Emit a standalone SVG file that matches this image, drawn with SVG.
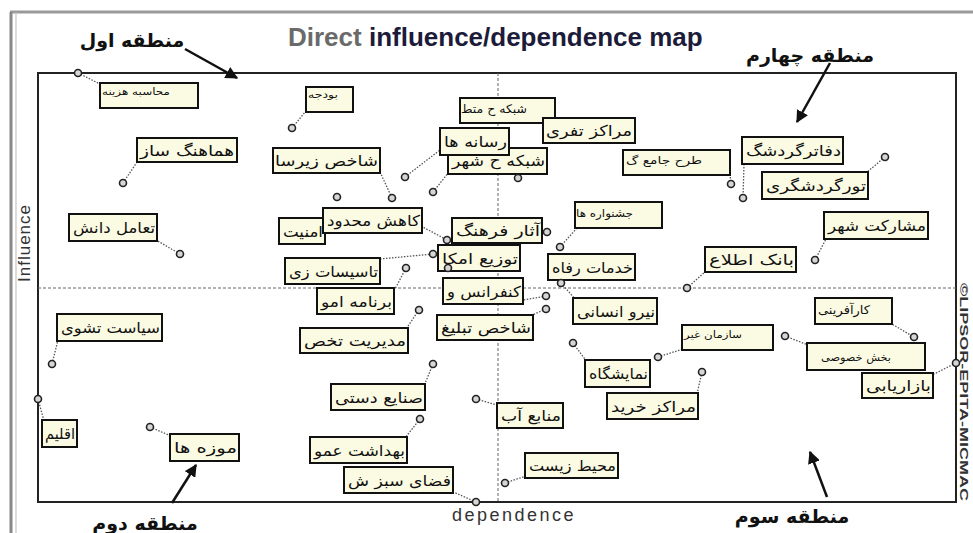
<svg xmlns="http://www.w3.org/2000/svg" width="973" height="533" viewBox="0 0 973 533">
<defs>
<style>
.box{fill:#fbfbe3;stroke:#111;stroke-width:2}
.lbl{font-family:"DejaVu Sans",sans-serif;font-size:15px;fill:#111;text-anchor:end}
.sm{font-size:10px}
.lead{stroke:#555;stroke-width:1.3;stroke-dasharray:1.5 1.5;fill:none}
.pt{fill:#d6d6d6;stroke:#222;stroke-width:1.6}
.zone{font-family:"DejaVu Sans",sans-serif;font-size:19px;font-weight:bold;fill:#111;text-anchor:middle}
.arr{stroke:#111;stroke-width:2.5;fill:none;marker-end:url(#ah)}
.mid{stroke:#666;stroke-width:1;stroke-dasharray:3 2;fill:none}
</style>
<marker id="ah" viewBox="0 0 10 10" refX="9" refY="5" markerWidth="5" markerHeight="5" orient="auto"><path d="M0,0 L10,5 L0,10 z" fill="#111"/></marker>
</defs>
<rect x="0" y="0" width="973" height="533" fill="#ffffff"/>
<line x1="10" y1="12" x2="973" y2="12" stroke="#9a9a9a" stroke-width="3"/>
<line x1="11" y1="12" x2="11" y2="533" stroke="#888" stroke-width="3"/>
<line x1="16" y1="12" x2="16" y2="533" stroke="#bbb" stroke-width="1"/>
<text x="288" y="46" font-family="Liberation Sans, Arial, sans-serif" font-size="26" font-weight="bold" fill="#1c1c3a"><tspan fill="#6a6a6a">Direct</tspan> influence/dependence map</text>
<rect x="38" y="73" width="918" height="429" fill="none" stroke="#222" stroke-width="2"/>
<line class="mid" x1="498" y1="73" x2="498" y2="502"/>
<line class="mid" x1="38" y1="288" x2="956" y2="288"/>
<text transform="translate(30,243) rotate(-90)" font-family="Liberation Sans, Arial, sans-serif" font-size="17" letter-spacing="1" fill="#333" text-anchor="middle">Influence</text>
<text x="514" y="521" font-family="Liberation Sans, Arial, sans-serif" font-size="18" letter-spacing="2.5" fill="#333" text-anchor="middle">dependence</text>
<text transform="translate(960,283) rotate(90)" font-family="Liberation Sans, Arial, sans-serif" font-size="11" font-weight="bold" fill="#333" textLength="218" lengthAdjust="spacingAndGlyphs">©LIPSOR-EPITA-MICMAC</text>
<g id="zones">
<text class="zone" x="132" y="47">منطقه اول</text>
<text class="zone" x="810" y="62">منطقه چهارم</text>
<text class="zone" x="145" y="530">منطقه دوم</text>
<text class="zone" x="792" y="523">منطقه سوم</text>
<line class="arr" x1="185" y1="49" x2="237" y2="78"/>
<line class="arr" x1="830" y1="63" x2="797" y2="122"/>
<line class="arr" x1="172" y1="503" x2="196" y2="465"/>
<line class="arr" x1="827" y1="497" x2="810" y2="452"/>
</g>
<g id="connectors">
<line class="lead" x1="78" y1="73" x2="100" y2="84"/>
<line class="lead" x1="292" y1="128" x2="306" y2="111"/>
<line class="lead" x1="123" y1="183" x2="137" y2="162"/>
<line class="lead" x1="380" y1="172" x2="392" y2="198"/>
<line class="lead" x1="405" y1="177" x2="440" y2="150"/>
<line class="lead" x1="433" y1="192" x2="449" y2="172"/>
<line class="lead" x1="730" y1="174" x2="731" y2="184"/>
<line class="lead" x1="744" y1="164" x2="743" y2="198"/>
<line class="lead" x1="885" y1="157" x2="866" y2="173"/>
<line class="lead" x1="815" y1="260" x2="826" y2="239"/>
<line class="lead" x1="687" y1="288" x2="706" y2="271"/>
<line class="lead" x1="560" y1="247" x2="577" y2="228"/>
<line class="lead" x1="561" y1="283" x2="575" y2="299"/>
<line class="lead" x1="421" y1="226" x2="447" y2="240"/>
<line class="lead" x1="380" y1="259" x2="433" y2="254"/>
<line class="lead" x1="406" y1="268" x2="395" y2="289"/>
<line class="lead" x1="419" y1="310" x2="406" y2="329"/>
<line class="lead" x1="546" y1="296" x2="523" y2="300"/>
<line class="lead" x1="546" y1="309" x2="530" y2="316"/>
<line class="lead" x1="658" y1="357" x2="683" y2="349"/>
<line class="lead" x1="890" y1="323" x2="914" y2="337"/>
<line class="lead" x1="785" y1="336" x2="808" y2="345"/>
<line class="lead" x1="956" y1="363" x2="932" y2="375"/>
<line class="lead" x1="573" y1="343" x2="587" y2="362"/>
<line class="lead" x1="702" y1="372" x2="697" y2="394"/>
<line class="lead" x1="476" y1="399" x2="497" y2="405"/>
<line class="lead" x1="505" y1="483" x2="526" y2="476"/>
<line class="lead" x1="433" y1="364" x2="424" y2="386"/>
<line class="lead" x1="420" y1="419" x2="405" y2="438"/>
<line class="lead" x1="476" y1="502" x2="451" y2="491"/>
<line class="lead" x1="150" y1="427" x2="171" y2="436"/>
<line class="lead" x1="38" y1="399" x2="44" y2="421"/>
<line class="lead" x1="52" y1="364" x2="58" y2="340"/>
<line class="lead" x1="180" y1="254" x2="156" y2="240"/>
</g>
<g id="n-mohasebe"><rect class="box" x="100" y="83" width="98" height="25"/><text class="lbl sm" x="170" y="95" textLength="68" lengthAdjust="spacingAndGlyphs">محاسبه هزینه</text></g>
<g id="n-budget"><rect class="box" x="306" y="87" width="47" height="25"/><text class="lbl sm" x="338" y="98" textLength="30" lengthAdjust="spacingAndGlyphs">بودجه</text></g>
<g id="n-hamahang"><rect class="box" x="137" y="138" width="100" height="24"/><text class="lbl" x="234" y="156" textLength="94" lengthAdjust="spacingAndGlyphs">هماهنگ ساز</text></g>
<g id="n-zirsakht"><rect class="box" x="273" y="148" width="107" height="25"/><text class="lbl" x="378" y="166" textLength="103" lengthAdjust="spacingAndGlyphs">شاخص زیرسا</text></g>
<g id="n-shabake-mantaghe"><rect class="box" x="460" y="98" width="95" height="25"/><text class="lbl" x="527" y="113" style="font-size:12px" textLength="66" lengthAdjust="spacingAndGlyphs">شبکه ح متط</text></g>
<g id="n-tafrihi"><rect class="box" x="543" y="118" width="92" height="25"/><text class="lbl" x="632" y="136" textLength="86" lengthAdjust="spacingAndGlyphs">مراکز تفری</text></g>
<g id="n-shabake-shahr"><rect class="box" x="448" y="148" width="99" height="26"/><text class="lbl" x="545" y="166" textLength="93" lengthAdjust="spacingAndGlyphs">شبکه ح شهر</text></g>
<g id="n-resaneh"><rect class="box" x="440" y="128" width="69" height="27"/><text class="lbl" x="507" y="147" textLength="63" lengthAdjust="spacingAndGlyphs">رسانه ها</text></g>
<g id="n-tarh"><rect class="box" x="623" y="150" width="107" height="25"/><text class="lbl" x="702" y="164" style="font-size:11px" textLength="76" lengthAdjust="spacingAndGlyphs">طرح جامع گ</text></g>
<g id="n-dafater"><rect class="box" x="742" y="137" width="101" height="27"/><text class="lbl" x="841" y="156" textLength="95" lengthAdjust="spacingAndGlyphs">دفاترگردشگ</text></g>
<g id="n-tour"><rect class="box" x="762" y="172" width="106" height="27"/><text class="lbl" x="866" y="191" textLength="100" lengthAdjust="spacingAndGlyphs">تورگردشگری</text></g>
<g id="n-mosharekat"><rect class="box" x="824" y="212" width="104" height="27"/><text class="lbl" x="926" y="231" textLength="98" lengthAdjust="spacingAndGlyphs">مشارکت شهر</text></g>
<g id="n-bank"><rect class="box" x="705" y="247" width="91" height="25"/><text class="lbl" x="794" y="265" textLength="85" lengthAdjust="spacingAndGlyphs">بانک اطلاع</text></g>
<g id="n-jashnvare"><rect class="box" x="575" y="202" width="87" height="26"/><text class="lbl" x="633" y="217" style="font-size:11px" textLength="57" lengthAdjust="spacingAndGlyphs">جشنواره ها</text></g>
<g id="n-khadamat"><rect class="box" x="548" y="254" width="87" height="26"/><text class="lbl" x="633" y="273" textLength="81" lengthAdjust="spacingAndGlyphs">خدمات رفاه</text></g>
<g id="n-niru"><rect class="box" x="573" y="298" width="84" height="26"/><text class="lbl" x="655" y="317" textLength="78" lengthAdjust="spacingAndGlyphs">نیرو انسانی</text></g>
<g id="n-amniat"><rect class="box" x="279" y="218" width="46" height="26"/><text class="lbl" x="323" y="237" textLength="40" lengthAdjust="spacingAndGlyphs">امنیت</text></g>
<g id="n-kahesh"><rect class="box" x="323" y="208" width="99" height="25"/><text class="lbl" x="420" y="226" textLength="93" lengthAdjust="spacingAndGlyphs">کاهش محدود</text></g>
<g id="n-tozi"><rect class="box" x="438" y="245" width="82" height="26"/><text class="lbl" x="518" y="264" textLength="76" lengthAdjust="spacingAndGlyphs">توزیع امکا</text></g>
<g id="n-asar"><rect class="box" x="452" y="218" width="90" height="25"/><text class="lbl" x="540" y="236" textLength="84" lengthAdjust="spacingAndGlyphs">آثار فرهنگ</text></g>
<g id="n-tasisat"><rect class="box" x="285" y="258" width="95" height="26"/><text class="lbl" x="378" y="277" textLength="89" lengthAdjust="spacingAndGlyphs">تاسیسات زی</text></g>
<g id="n-barname"><rect class="box" x="317" y="288" width="77" height="26"/><text class="lbl" x="392" y="307" textLength="71" lengthAdjust="spacingAndGlyphs">برنامه امو</text></g>
<g id="n-konferans"><rect class="box" x="443" y="278" width="80" height="26"/><text class="lbl" x="521" y="297" textLength="74" lengthAdjust="spacingAndGlyphs">کنفرانس و</text></g>
<g id="n-tabligh"><rect class="box" x="437" y="315" width="96" height="25"/><text class="lbl" x="531" y="333" textLength="90" lengthAdjust="spacingAndGlyphs">شاخص تبلیغ</text></g>
<g id="n-modiriat"><rect class="box" x="300" y="328" width="108" height="25"/><text class="lbl" x="406" y="346" textLength="102" lengthAdjust="spacingAndGlyphs">مدیریت تخص</text></g>
<g id="n-sazman"><rect class="box" x="682" y="325" width="91" height="25"/><text class="lbl" x="742" y="338" style="font-size:10px" textLength="58" lengthAdjust="spacingAndGlyphs">سازمان غیر</text></g>
<g id="n-karafarini"><rect class="box" x="815" y="298" width="77" height="26"/><text class="lbl" x="870" y="314" style="font-size:12px" textLength="52" lengthAdjust="spacingAndGlyphs">کارآفرینی</text></g>
<g id="n-bakhsh"><rect class="box" x="807" y="343" width="118" height="27"/><text class="lbl" x="891" y="361" style="font-size:11px" textLength="70" lengthAdjust="spacingAndGlyphs">بخش خصوصی</text></g>
<g id="n-bazaryabi"><rect class="box" x="862" y="373" width="71" height="25"/><text class="lbl" x="931" y="391" textLength="65" lengthAdjust="spacingAndGlyphs">بازاریابی</text></g>
<g id="n-namayeshgah"><rect class="box" x="585" y="360" width="65" height="27"/><text class="lbl" x="648" y="379" textLength="59" lengthAdjust="spacingAndGlyphs">نمایشگاه</text></g>
<g id="n-kharid"><rect class="box" x="607" y="393" width="91" height="26"/><text class="lbl" x="696" y="412" textLength="85" lengthAdjust="spacingAndGlyphs">مراکز خرید</text></g>
<g id="n-ab"><rect class="box" x="497" y="403" width="66" height="25"/><text class="lbl" x="561" y="421" textLength="60" lengthAdjust="spacingAndGlyphs">منابع آب</text></g>
<g id="n-mohit"><rect class="box" x="525" y="453" width="93" height="25"/><text class="lbl" x="616" y="471" textLength="87" lengthAdjust="spacingAndGlyphs">محیط زیست</text></g>
<g id="n-sanaye"><rect class="box" x="331" y="384" width="94" height="26"/><text class="lbl" x="423" y="403" textLength="88" lengthAdjust="spacingAndGlyphs">صنایع دستی</text></g>
<g id="n-behdasht"><rect class="box" x="310" y="437" width="97" height="26"/><text class="lbl" x="405" y="456" textLength="91" lengthAdjust="spacingAndGlyphs">بهداشت عمو</text></g>
<g id="n-fazaye"><rect class="box" x="344" y="467" width="109" height="26"/><text class="lbl" x="451" y="486" textLength="103" lengthAdjust="spacingAndGlyphs">فضای سبز ش</text></g>
<g id="n-muze"><rect class="box" x="170" y="434" width="69" height="27"/><text class="lbl" x="237" y="453" textLength="63" lengthAdjust="spacingAndGlyphs">موزه ها</text></g>
<g id="n-eghlim"><rect class="box" x="42" y="420" width="35" height="27"/><text class="lbl" x="75" y="439" textLength="30" lengthAdjust="spacingAndGlyphs">اقلیم</text></g>
<g id="n-siasat"><rect class="box" x="57" y="314" width="105" height="27"/><text class="lbl" x="160" y="333" textLength="99" lengthAdjust="spacingAndGlyphs">سیاست تشوی</text></g>
<g id="n-taamol"><rect class="box" x="69" y="214" width="88" height="27"/><text class="lbl" x="155" y="233" textLength="82" lengthAdjust="spacingAndGlyphs">تعامل دانش</text></g>
<g id="points">
<circle class="pt" cx="78" cy="73" r="3.5"/>
<circle class="pt" cx="292" cy="128" r="3.5"/>
<circle class="pt" cx="123" cy="183" r="3.5"/>
<circle class="pt" cx="392" cy="198" r="3.5"/>
<circle class="pt" cx="337" cy="197" r="3.5"/>
<circle class="pt" cx="405" cy="177" r="3.5"/>
<circle class="pt" cx="433" cy="192" r="3.5"/>
<circle class="pt" cx="518" cy="178" r="3.5"/>
<circle class="pt" cx="731" cy="184" r="3.5"/>
<circle class="pt" cx="743" cy="198" r="3.5"/>
<circle class="pt" cx="885" cy="157" r="3.5"/>
<circle class="pt" cx="815" cy="260" r="3.5"/>
<circle class="pt" cx="687" cy="288" r="3.5"/>
<circle class="pt" cx="560" cy="247" r="3.5"/>
<circle class="pt" cx="561" cy="283" r="3.5"/>
<circle class="pt" cx="547" cy="232" r="3.5"/>
<circle class="pt" cx="447" cy="240" r="3.5"/>
<circle class="pt" cx="433" cy="254" r="3.5"/>
<circle class="pt" cx="448" cy="268" r="3.5"/>
<circle class="pt" cx="406" cy="268" r="3.5"/>
<circle class="pt" cx="419" cy="310" r="3.5"/>
<circle class="pt" cx="546" cy="296" r="3.5"/>
<circle class="pt" cx="546" cy="309" r="3.5"/>
<circle class="pt" cx="658" cy="357" r="3.5"/>
<circle class="pt" cx="914" cy="337" r="3.5"/>
<circle class="pt" cx="785" cy="336" r="3.5"/>
<circle class="pt" cx="956" cy="363" r="3.5"/>
<circle class="pt" cx="573" cy="343" r="3.5"/>
<circle class="pt" cx="702" cy="372" r="3.5"/>
<circle class="pt" cx="476" cy="399" r="3.5"/>
<circle class="pt" cx="505" cy="483" r="3.5"/>
<circle class="pt" cx="433" cy="364" r="3.5"/>
<circle class="pt" cx="420" cy="419" r="3.5"/>
<circle class="pt" cx="476" cy="502" r="3.5"/>
<circle class="pt" cx="150" cy="427" r="3.5"/>
<circle class="pt" cx="38" cy="399" r="3.5"/>
<circle class="pt" cx="52" cy="364" r="3.5"/>
<circle class="pt" cx="180" cy="254" r="3.5"/>
</g>
</svg>
